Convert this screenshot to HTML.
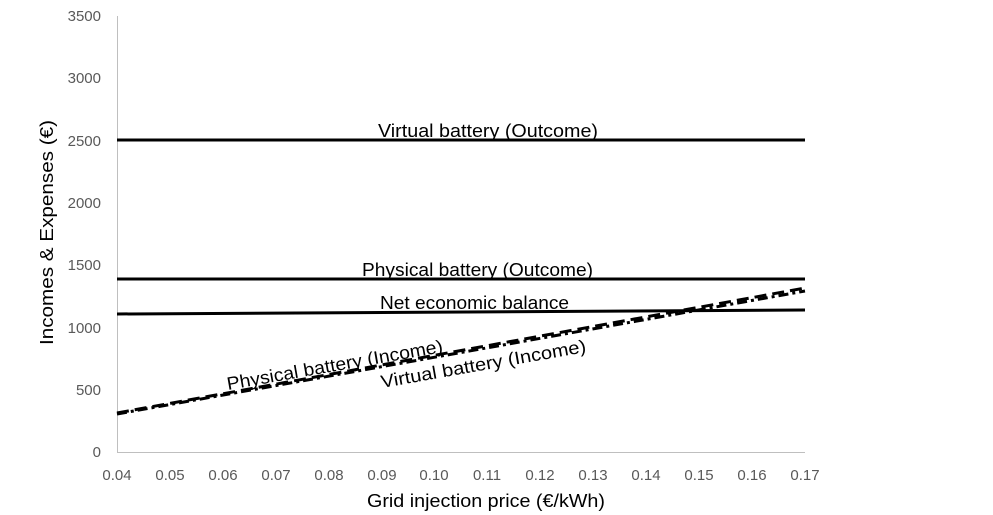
<!DOCTYPE html>
<html><head><style>body{margin:0;background:#fff}svg{display:block}</style></head><body>
<svg width="993" height="515" xmlns="http://www.w3.org/2000/svg" font-family="Liberation Sans, sans-serif">
<rect width="993" height="515" fill="#fff"/>
<line x1="117.5" y1="16" x2="117.5" y2="452" stroke="#bfbfbf" stroke-width="1"/>
<line x1="117" y1="452.5" x2="805" y2="452.5" stroke="#bfbfbf" stroke-width="1"/>
<g font-size="15" fill="#595959" text-anchor="end">
<text x="101" y="457">0</text><text x="101" y="395">500</text><text x="101" y="333">1000</text><text x="101" y="270">1500</text><text x="101" y="208">2000</text><text x="101" y="146">2500</text><text x="101" y="83">3000</text><text x="101" y="21">3500</text>
</g>
<g font-size="15" fill="#595959" text-anchor="middle">
<text x="117" y="480">0.04</text><text x="170" y="480">0.05</text><text x="223" y="480">0.06</text><text x="276" y="480">0.07</text><text x="329" y="480">0.08</text><text x="382" y="480">0.09</text><text x="434" y="480">0.10</text><text x="487" y="480">0.11</text><text x="540" y="480">0.12</text><text x="593" y="480">0.13</text><text x="646" y="480">0.14</text><text x="699" y="480">0.15</text><text x="752" y="480">0.16</text><text x="805" y="480">0.17</text>
</g>
<text x="367" y="507" font-size="18" fill="#000" textLength="238" lengthAdjust="spacingAndGlyphs">Grid injection price (€/kWh)</text>
<text transform="translate(53,345) rotate(-90)" font-size="18" fill="#000" textLength="225" lengthAdjust="spacingAndGlyphs">Incomes &amp; Expenses (€)</text>
<g stroke="#000" stroke-width="3" fill="none">
<line x1="117" y1="140" x2="805" y2="140"/>
<line x1="117" y1="279" x2="805" y2="279"/>
<line x1="117" y1="314" x2="805" y2="310"/>
<line x1="117" y1="413" x2="805" y2="288" stroke-dasharray="12,6"/>
<line x1="117" y1="414" x2="805" y2="291" stroke-dasharray="10,4,3,4"/>
</g>
<g font-size="18" fill="#000">
<text x="378" y="137" textLength="220" lengthAdjust="spacingAndGlyphs">Virtual battery (Outcome)</text>
<text x="362" y="276" textLength="231" lengthAdjust="spacingAndGlyphs">Physical battery (Outcome)</text>
<text x="380" y="309" textLength="189" lengthAdjust="spacingAndGlyphs">Net economic balance</text>
<text transform="translate(228,390) rotate(-10)" textLength="219" lengthAdjust="spacingAndGlyphs">Physical battery (Income)</text>
<text transform="translate(382,388) rotate(-10)" textLength="208" lengthAdjust="spacingAndGlyphs">Virtual battery (Income)</text>
</g>
</svg>
</body></html>
